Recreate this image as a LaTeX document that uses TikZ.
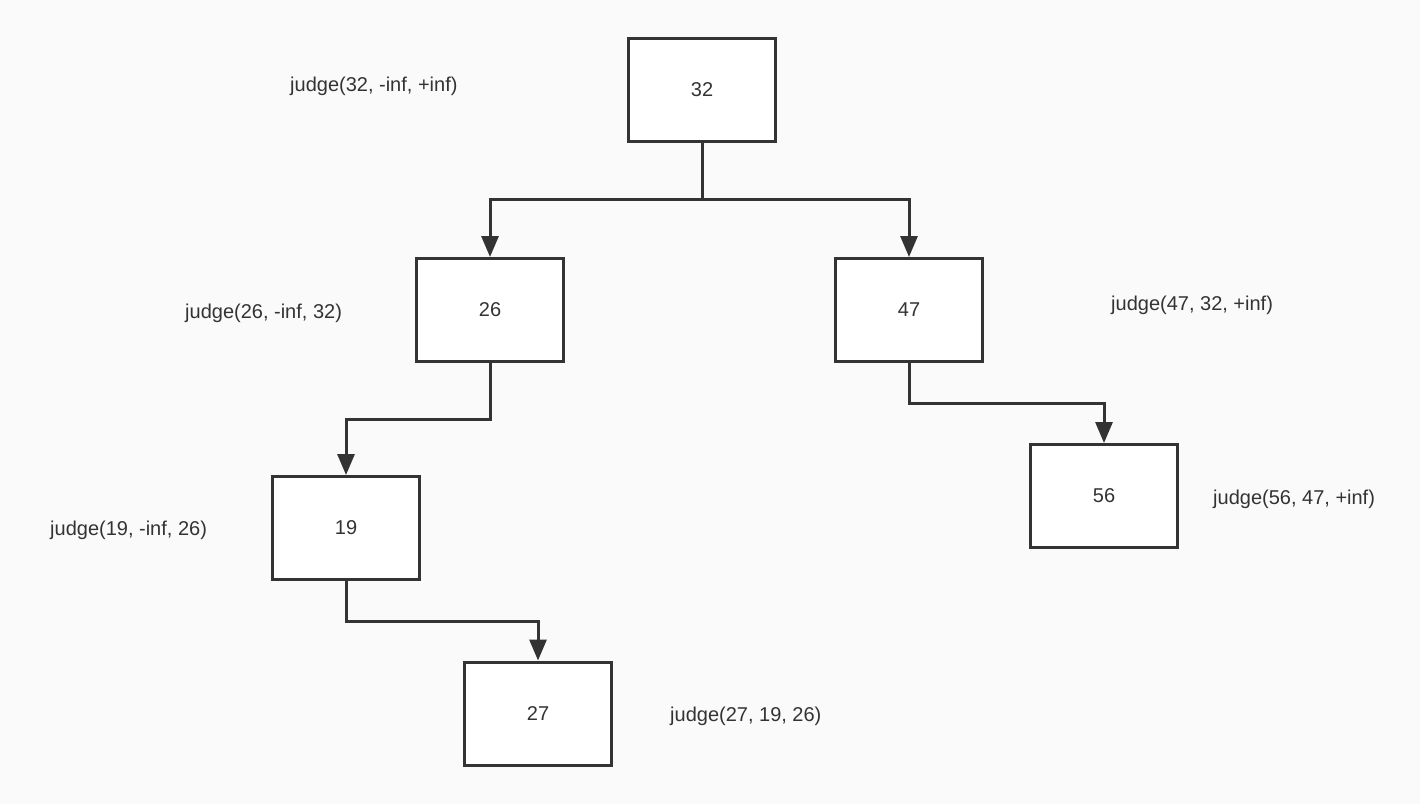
\documentclass[tikz,border=0pt]{standalone}
\usepackage{fontspec}
\setmainfont{Liberation Sans}
\usetikzlibrary{arrows.meta}
\definecolor{bg}{HTML}{FAFAFA}
\definecolor{ink}{HTML}{333333}
\tikzset{
    box/.style={draw=ink, fill=white, line width=3pt, minimum width=147pt, minimum height=103pt, inner sep=0pt, text=ink, font=\fontsize{20}{23}\selectfont},
    lbl/.style={anchor=west, inner sep=0pt, text=ink, font=\fontsize{20}{23}\selectfont},
    conn/.style={draw=ink, line width=3pt, -{Triangle[width=17pt,length=21pt]}}
}
\begin{document}
\begin{tikzpicture}[x=1pt,y=-1pt]
                \fill[bg] (0,0) rectangle (1420,804);
                \useasboundingbox (0,0) rectangle (1420,804);

                \node[box] (n32) at (702,89.5) {32};
                \node[box] (n26) at (490,310) {26};
                \node[box] (n47) at (909,310) {47};
                \node[box] (n19) at (346,528) {19};
                \node[box] (n56) at (1104,496) {56};
                \node[box] (n27) at (538,713.5) {27};

                \draw[conn] (n32.south) -- ++(0,57) -| (n26.north);
                \draw[conn] (n32.south) -- ++(0,57) -| (n47.north);
                \draw[conn] (n26.south) -- ++(0,56) -| (n19.north);
                \draw[conn] (n47.south) -- ++(0,40) -| (n56.north);
                \draw[conn] (n19.south) -- ++(0,40) -| (n27.north);

                \node[lbl] (j32) at (290,86) {judge(32, -inf, +inf)};
                \node[lbl] (j26) at (185,313) {judge(26, -inf, 32)};
                \node[lbl] (j47) at (1111,305) {judge(47, 32, +inf)};
                \node[lbl] (j19) at (50,530) {judge(19, -inf, 26)};
                \node[lbl] (j56) at (1213,499) {judge(56, 47, +inf)};
                \node[lbl] (j27) at (670,716) {judge(27, 19, 26)};
            \end{tikzpicture}
\end{document}
